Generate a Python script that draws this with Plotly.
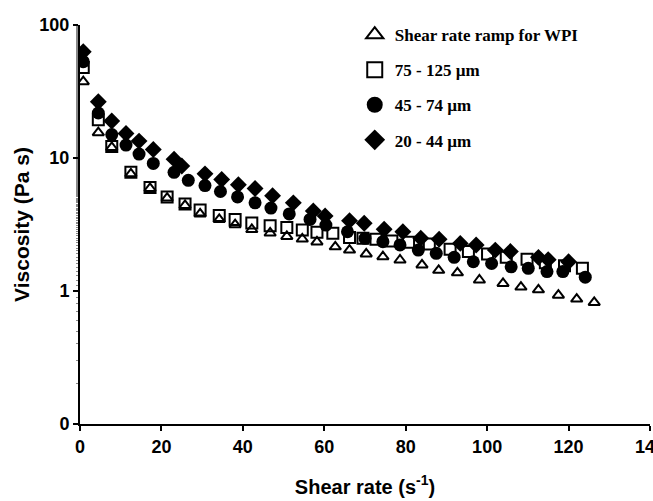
import plotly.graph_objects as go

# ---- data ----
wpi_x = [0.8, 4.5, 7.8, 12.5, 17.2, 21.4, 25.8, 29.5, 34.2, 38.1, 42.2, 46.7, 50.8, 54.6, 58.2,
         62.7, 66.2, 70.3, 74.4, 78.6, 84.0, 88.1, 92.7, 98.1, 103.9, 108.3, 112.6, 117.5, 122.0, 126.3]
wpi_y = [37.5, 15.5, 12.0, 7.6, 5.9, 5.0, 4.4, 3.8, 3.45, 3.15, 2.9, 2.73, 2.57, 2.46, 2.34,
         2.15, 2.03, 1.90, 1.81, 1.71, 1.57, 1.43, 1.37, 1.21, 1.14, 1.07, 1.02, 0.93, 0.87, 0.82]

sq_x = [0.8, 4.5, 7.8, 12.5, 17.2, 21.4, 25.8, 29.5, 34.2, 38.1, 42.2, 46.7, 50.8, 54.6, 58.2,
        62.1, 66.2, 69.5, 72.7, 76.6, 80.7, 85.8, 90.9, 95.4, 100.1, 104.7, 109.8, 114.3, 119.0, 123.4]
sq_y = [48, 19.4, 12.2, 7.8, 6.0, 5.1, 4.5, 4.07, 3.7, 3.45, 3.25, 3.1, 3.0, 2.88, 2.76,
        2.72, 2.53, 2.49, 2.45, 2.38, 2.33, 2.26, 2.06, 1.98, 1.90, 1.79, 1.73, 1.63, 1.55, 1.48]

ci_x = [0.8, 4.5, 7.8, 11.3, 14.5, 18.0, 23.1, 26.6, 30.7, 34.5, 38.7, 43.0, 46.9, 51.4, 56.5,
        60.4, 65.7, 70.0, 74.4, 78.6, 83.1, 87.5, 91.9, 96.6, 101.1, 105.9, 110.1, 114.7, 118.6, 124.1]
ci_y = [53, 21.8, 15.0, 12.5, 10.7, 9.1, 7.8, 6.8, 6.2, 5.6, 5.1, 4.6, 4.2, 3.8, 3.45,
        3.13, 2.79, 2.49, 2.35, 2.22, 2.03, 1.92, 1.79, 1.66, 1.61, 1.52, 1.48, 1.40, 1.40, 1.27]

di_x = [0.8, 4.5, 7.8, 11.3, 14.5, 18.0, 23.1, 25.0, 30.7, 34.8, 38.9, 43.0, 47.3, 52.4, 57.3,
        60.2, 66.2, 69.8, 74.7, 79.3, 83.7, 88.2, 93.4, 97.3, 102.0, 105.7, 112.6, 115.0, 120.0]
di_y = [63, 26.5, 19.0, 15.3, 13.4, 11.6, 9.8, 8.7, 7.6, 6.9, 6.3, 5.9, 5.2, 4.6, 4.0,
        3.66, 3.38, 3.23, 2.91, 2.79, 2.49, 2.45, 2.28, 2.22, 2.03, 1.98, 1.79, 1.72, 1.66]

series_names = ["Shear rate ramp for WPI", "75 - 125 µm", "45 - 74 µm", "20 - 44 µm"]
x_ticks = [0, 20, 40, 60, 80, 100, 120, 140]
y_tickvals = [0.1, 1, 10, 100]
y_ticktext = ["0", "1", "10", "100"]

symbols = ["triangle-up-open", "square-open", "circle", "diamond"]
data_sizes = [10, 11, 13, 13]
legend_sizes = [15, 15, 17, 18]

fig = go.Figure()
for i, (xs, ys) in enumerate([(wpi_x, wpi_y), (sq_x, sq_y), (ci_x, ci_y), (di_x, di_y)]):
    fig.add_trace(go.Scatter(
        x=xs, y=ys, mode="markers", showlegend=False,
        marker=dict(symbol=symbols[i], size=data_sizes[i], color="black",
                    line=dict(color="black", width=2 if "open" in symbols[i] else 0)),
    ))
# legend entries (larger markers, as in the reference legend)
for i, name in enumerate(series_names):
    fig.add_trace(go.Scatter(
        x=[None], y=[None], mode="markers", name=name, legendgroup=str(i),
        marker=dict(symbol=symbols[i], size=legend_sizes[i], color="black",
                    line=dict(color="black", width=2 if "open" in symbols[i] else 0)),
    ))

tick_font = dict(family="Liberation Sans, Arial, sans-serif", size=18, color="black", weight="bold")
xtitle_font = dict(family="Liberation Sans, Arial, sans-serif", size=20, color="black", weight="bold")
ytitle_font = dict(family="Liberation Sans, Arial, sans-serif", size=21, color="black", weight="bold")

fig.update_layout(
    width=653, height=501,
    margin=dict(l=80, r=3, t=25, b=77),
    paper_bgcolor="white", plot_bgcolor="white",
    legend=dict(
        x=0.482, y=1.02, xanchor="left", yanchor="top",
        bgcolor="rgba(0,0,0,0)",
        font=dict(family="Liberation Serif, Times New Roman, serif", size=17, color="black", weight="bold"),
        tracegroupgap=10,
    ),
    xaxis=dict(
        range=[0, 140], tickvals=x_ticks, ticks="outside", ticklen=5, tickwidth=1.5,
        tickcolor="black", showline=True, linecolor="black", linewidth=2,
        showgrid=False, zeroline=False, tickfont=tick_font, ticklabeloverflow="allow",
        automargin=False,
        title=dict(text="Shear rate (s<sup>-1</sup>)", font=xtitle_font, standoff=24),
    ),
    yaxis=dict(
        type="log", range=[-1, 2], tickvals=y_tickvals, ticktext=y_ticktext,
        ticks="outside", ticklen=5, tickwidth=1.5, tickcolor="black",
        showline=True, linecolor="black", linewidth=2, showgrid=False, zeroline=False,
        tickfont=tick_font, automargin=False,
        minor=dict(ticks="outside", ticklen=2, tickwidth=0.6, tickcolor="#888", showgrid=False),
        title=dict(text="Viscosity (Pa s)", font=ytitle_font, standoff=4),
    ),
)

fig.write_html("out.html")
